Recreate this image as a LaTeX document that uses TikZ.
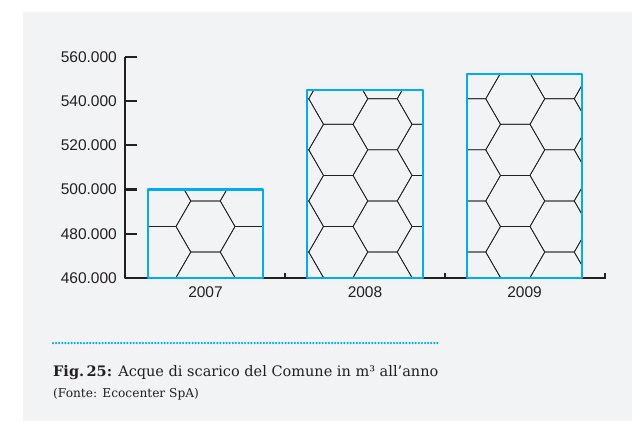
\documentclass[tikz,border=0pt]{standalone}
\usepackage{fontspec}
\setmainfont{DejaVu Serif}
\setsansfont{Liberation Sans}
\definecolor{bgcol}{HTML}{F2F3F5}
\definecolor{barcol}{HTML}{00AEEF}
\definecolor{axcol}{HTML}{231F20}

% hexagon fill of one bar: left, right, top
\newcommand\hexbar[3]{%
  \begin{scope}
    \clip (#1,143) rectangle (#2,#3);
    \foreach \i in {-2,...,9}{
      \foreach \j in {-2,...,4}{
        \pgfmathsetmacro\cx{205.5+44.25*\i}
        \pgfmathsetmacro\cy{194.5+51.1*\j+25.55*mod(\i,2)}
        \draw[hexline] (\cx,\cy) +(0:\R) -- +(60:\R) -- +(120:\R) -- +(180:\R)
          -- +(240:\R) -- +(300:\R) -- cycle;
      }}
  \end{scope}
  \draw[barbox] (#1,143) rectangle (#2,#3);
}

\begin{document}
\begin{tikzpicture}[x=1pt, y=1pt, line join=round,
    lab/.style={font=\sffamily\fontsize{15.5}{18}\selectfont, text=axcol, inner sep=0pt},
    barbox/.style={draw=barcol, line width=2.4pt},
    hexline/.style={draw=axcol, line width=0.7pt},
    axis/.style={draw=axcol, line width=2.2pt}]
	\def\R{29.5}
	\useasboundingbox (0,0) rectangle (632,421);
	\fill[bgcol] (23,0) rectangle (632,409);
	
	% axes
	\coordinate (O) at (125,143);
	\coordinate (ytop) at (125,364);
	\coordinate (xend) at (606,143);
	\draw[axis] (ytop) -- (O) -- (xend);
	\foreach \v [count=\k from 0] in {460,480,...,560}{
		\draw[axis] (125,143+44.2*\k) -- ++(12,0);
		\node[lab, anchor=east] (ylab\v) at (117,143+44.2*\k) {\v.000};
	}
	\foreach \x in {285,445,605}
		\draw[axis, line width=1.8pt] (\x,143) -- ++(0,5);
	
	% bars
	\hexbar{148}{263}{231.4}
	\hexbar{307}{423}{331}
	\hexbar{467}{582}{347}
	
	\node[lab, anchor=base] (y2007) at (205.5,124) {2007};
	\node[lab, anchor=base] (y2008) at (365,124) {2008};
	\node[lab, anchor=base] (y2009) at (524.5,124) {2009};
	
	% caption
	\coordinate (dotA) at (53,78);
	\coordinate (dotB) at (439,78);
	\draw[barcol, line width=2.5pt, line cap=round, dash pattern=on 0pt off 3.1pt] (dotA) -- (dotB);
	\node[anchor=base west, inner sep=0pt, text=axcol, font=\fontsize{14.5}{17}\selectfont]
		(cap) at (53,45) {\textbf{Fig.\,25:} Acque di scarico del Comune in m³ all’anno};
	\node[anchor=base west, inner sep=0pt, text=axcol, font=\fontsize{12.2}{14}\selectfont]
		(src) at (53,24) {(Fonte: Ecocenter SpA)};
\end{tikzpicture}
\end{document}
